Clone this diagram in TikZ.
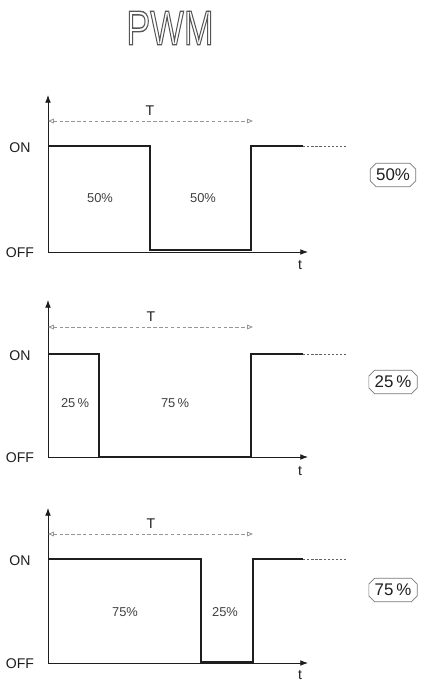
\documentclass[tikz,border=0pt]{standalone}
\usepackage{fontspec}
\setmainfont{Liberation Sans}
\usetikzlibrary{positioning,arrows.meta,shapes.misc}
\definecolor{inkcolor}{RGB}{30,30,30}
\definecolor{dashcolor}{RGB}{150,150,150}
\newcommand{\hollowtext}[1]{\special{pdf:literal direct 1 Tr 0.9 w}#1\special{pdf:literal direct 0 Tr}}

\begin{document}
\begin{tikzpicture}[
  x=0.03cm, y=-0.03cm,
  >=Latex,
  axis/.style={->, line width=0.8pt, color=inkcolor},
  sig/.style={line width=1.6pt, color=inkcolor},
  cont/.style={line width=0.8pt, dashed, dash pattern=on 2pt off 1.5pt, color=inkcolor!70},
  period/.style={{Triangle[open,length=5pt,width=4pt]}-{Triangle[open,length=5pt,width=4pt]}, line width=0.7pt, dashed, dash pattern=on 3pt off 2pt, color=dashcolor},
  lvl/.style={font=\large, text=inkcolor},
  pct/.style={font=\fontsize{11}{13}\selectfont, text=inkcolor!85},
  duty/.style={chamfered rectangle, chamfered rectangle xsep=2.5pt, chamfered rectangle ysep=2.5pt, draw=inkcolor!60, line width=0.6pt, font=\Large, text=inkcolor, inner sep=2.5pt},
]
\useasboundingbox (0,0) rectangle (421,681);

% === Title ===
\node[font=\fontsize{32}{34}\selectfont, text=inkcolor!75] (title) at (170,28) {\scalebox{0.95}[1.3]{\hollowtext{PWM}}};

% === Panel 1: 50% ===
\coordinate (o1) at (48,252);
\draw[axis] (o1) -- (48,95);
\draw[axis] (o1) -- (308,252);
\draw[sig] (48,146) -- (150,146) -- (150,250) -- (251,250) -- (251,146) -- (303,146);
\draw[cont] (303,146) -- (346,146);
\draw[period] (48,121) -- (253,121);
\node[lvl] (T1) at (150,111) {T};
\node[lvl] (on1) at (20,148) {ON};
\node[lvl] (off1) at (20,253) {OFF};
\node[lvl] (t1) at (300,265) {t};
\node[pct] (a1) at (100,198) {50\%};
\node[pct] (b1) at (203,198) {50\%};
\node[duty] (d1) at (393,175) {50\%};

% === Panel 2: 25% ===
\coordinate (o2) at (48,457);
\draw[axis] (o2) -- (48,300);
\draw[axis] (o2) -- (308,457);
\draw[sig] (48,354) -- (99,354) -- (99,457) -- (251,457) -- (251,354) -- (303,354);
\draw[cont] (303,354) -- (346,354);
\draw[period] (48,327) -- (253,327);
\node[lvl] (T2) at (151,317) {T};
\node[lvl] (on2) at (20,356) {ON};
\node[lvl] (off2) at (20,458) {OFF};
\node[lvl] (t2) at (300,471) {t};
\node[pct] (a2) at (75,403) {25\,\%};
\node[pct] (b2) at (175,403) {75\,\%};
\node[duty] (d2) at (393,382) {25\,\%};

% === Panel 3: 75% ===
\coordinate (o3) at (48,663);
\draw[axis] (o3) -- (48,508);
\draw[axis] (o3) -- (308,663);
\draw[sig] (48,559) -- (201,559) -- (201,662) -- (253,662) -- (253,559) -- (303,559);
\draw[cont] (303,559) -- (346,559);
\draw[period] (48,534) -- (253,534);
\node[lvl] (T3) at (151,524) {T};
\node[lvl] (on3) at (20,561) {ON};
\node[lvl] (off3) at (20,664) {OFF};
\node[lvl] (t3) at (300,675) {t};
\node[pct] (a3) at (125,612) {75\%};
\node[pct] (b3) at (225,612) {25\%};
\node[duty] (d3) at (393,590) {75\,\%};

\end{tikzpicture}
\end{document}
